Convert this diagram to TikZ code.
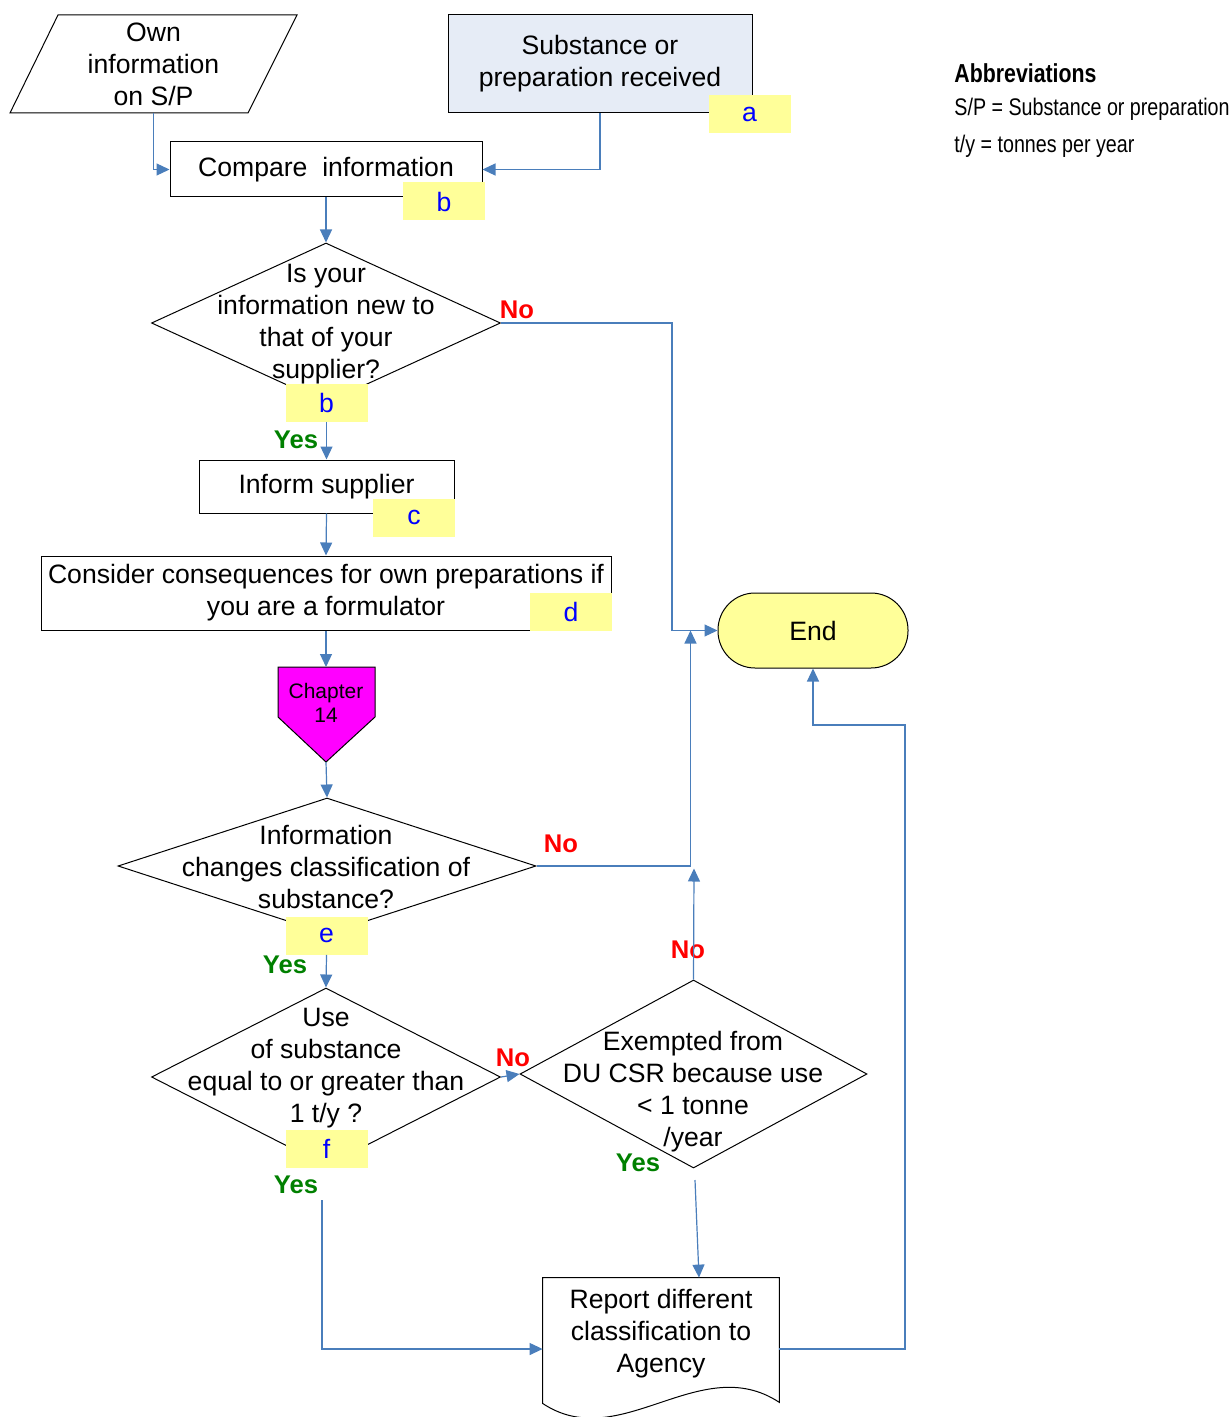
\documentclass[tikz,border=0pt]{standalone}
\usepackage{fontspec}
\setmainfont{Liberation Sans}
\newfontfamily\narrowfont[FakeStretch=0.82]{Liberation Sans}
\usepackage{tikz}
\usetikzlibrary{shapes.geometric}
\usetikzlibrary{arrows.meta}
\definecolor{linkblue}{HTML}{4A7EBB}
\definecolor{tagyellow}{HTML}{FFFF99}
\definecolor{boxblue}{HTML}{E6ECF6}
\definecolor{yesgreen}{HTML}{008000}
\definecolor{chapmagenta}{HTML}{FF00FF}
\tikzstyle{process} = [rectangle, draw=black, line width=0.5pt, align=center, inner sep=0pt]
\tikzstyle{decision} = [diamond, draw=black, line width=0.5pt, inner sep=0pt]
\tikzstyle{startstop} = [rectangle, rounded corners=18.5pt, draw=black, line width=0.5pt, fill=tagyellow, inner sep=0pt]
\tikzstyle{txt} = [align=center, inner sep=0pt, yshift=-1.25pt]
\tikzstyle{lettertag} = [rectangle, fill=tagyellow, text=blue, minimum width=41pt, minimum height=19pt, inner sep=0pt]
\tikzstyle{yeslabel} = [font=\fontsize{12.8}{16}\selectfont\bfseries, text=yesgreen, inner sep=0pt]
\tikzstyle{nolabel} = [font=\fontsize{12.8}{16}\selectfont\bfseries, text=red, inner sep=0pt]
\tikzstyle{abbr} = [anchor=west, inner sep=0pt, font=\narrowfont\fontsize{12}{14}\selectfont]
\tikzstyle{arrow} = [draw=linkblue, line width=0.6pt, -{Triangle[length=6.5pt,width=6pt]}]

\begin{document}
\begin{tikzpicture}[x=0.5pt, y=-0.5pt, font=\fontsize{13.3}{16}\selectfont]
    \useasboundingbox (0,0) rectangle (1231,1417);

    % top row
    \node (own) [txt, minimum width=95pt, minimum height=49pt] at (153.5,61.5) {Own\\information\\on S/P};
    \draw[line width=0.5pt] (58,15) -- (297,15) -- (248,113) -- (10,113) -- cycle;
    \node (sub) [process, fill=boxblue, minimum width=152pt, minimum height=49pt] at (600,64) {Substance or\\preparation received};
    \node (la) [lettertag] at (749.5,114) {a};

    \node (cmp) [process, minimum width=156pt, minimum height=27.5pt] at (326,169.5) {Compare~~information};
    \node (lb1) [lettertag] at (444,201.5) {b};

    % first question
    \node (q1) [decision, minimum width=174.5pt, minimum height=80pt] at (326,323) {};
    \node (q1t) [txt] at (326,322) {Is your\\information new to\\that of your\\supplier?};
    \node (lb2) [lettertag] at (326.5,402.5) {b};

    \node (inf) [process, minimum width=127.5pt, minimum height=26.5pt] at (326.5,486.5) {Inform supplier};
    \node (lc) [lettertag] at (414,517.5) {c};

    \node (cons) [process, minimum width=285pt, minimum height=37pt] at (326,593) {Consider consequences for own preparations if\\you are a formulator};
    \node (ld) [lettertag] at (571,612) {d};

    % chapter connector
    \coordinate (chtop) at (326,667);
    \coordinate (chbot) at (326,762);
    \filldraw[fill=chapmagenta, draw=black, line width=0.5pt] (278,667) -- (375,667) -- (375,717) -- (chbot) -- (278,717) -- cycle;
    \node (chap) [txt, font=\fontsize{10.5}{12}\selectfont] at (326,700) {Chapter\\14};

    % second question
    \node (q2) [decision, minimum width=209pt, minimum height=68pt] at (327,866) {};
    \node (q2t) [txt] at (326,864) {Information\\changes classification of\\substance?};
    \node (le) [lettertag] at (326.5,935.5) {e};

    % third and fourth question
    \node (q3) [decision, minimum width=174.5pt, minimum height=89pt] at (326,1077) {};
    \node (q3t) [txt] at (326,1066) {Use\\of substance\\equal to or greater than\\1 t/y ?};
    \node (lf) [lettertag] at (326.5,1148.5) {f};

    \node (q4) [decision, minimum width=173.5pt, minimum height=94pt] at (693.5,1074) {};
    \node (q4t) [txt] at (693,1089) {Exempted from\\DU CSR because use\\< 1 tonne\\/year};

    % report
    \node (rep) [rectangle, minimum width=118pt, minimum height=71pt, inner sep=0pt] at (661,1349) {};
    \draw[line width=0.5pt] (rep.north west) -- (rep.north east) -- ([yshift=9pt]rep.south east)
        .. controls (700,1350) and (620,1455) .. ([yshift=8.5pt]rep.south west) -- cycle;
    \node (rept) [txt] at (661,1331) {Report different\\classification to\\Agency};

    \node (end) [startstop, minimum width=95pt, minimum height=37.5pt] at (813,630.5) {End};

    % yes / no
    \node (no1) [nolabel] at (517,310) {No};
    \node (yes1) [yeslabel] at (296,440) {Yes};
    \node (no2) [nolabel] at (561,844) {No};
    \node (yes2) [yeslabel] at (285,965) {Yes};
    \node (no3) [nolabel] at (513,1058) {No};
    \node (no4) [nolabel] at (688,950) {No};
    \node (yes3) [yeslabel] at (296,1185) {Yes};
    \node (yes4) [yeslabel] at (638,1163) {Yes};

    % abbreviations
    \node (abbr1) [abbr, font=\narrowfont\fontsize{13}{14}\selectfont\bfseries] at (954,73) {Abbreviations};
    \node (abbr2) [abbr] at (954,109) {S/P = Substance or preparation};
    \node (abbr3) [abbr] at (954,146) {t/y = tonnes per year};

    % connectors
    \coordinate (y3) at (322,1200);
    \coordinate (y4) at (695,1180);
    \draw [arrow] (own.south) |- (cmp.west);
    \draw [arrow] (sub.south) |- (cmp.east);
    \draw [arrow] (cmp.south) -- (q1.north);
    \draw [arrow] (q1.east) -- (672,323) |- (end.west);
    \draw [arrow] (lb2.south) -- (inf.north);
    \draw [arrow] (inf.south) -- (cons.north);
    \draw [arrow] (cons.south) -- (chtop);
    \draw [arrow] (chbot) -- (q2.north);
    \draw [arrow] (q2.east) -| ([xshift=-13.5pt]end.west);
    \draw [arrow] (le.south) -- (q3.north);
    \draw [arrow] (q3.east) -- (q4.west);
    \draw [arrow] (q4.north) -- ++(0.5,-111);
    \draw [arrow] (y4) -- ([xshift=19pt]rep.north);
    \draw [arrow] (y3) |- (rep.west);
    \draw [arrow] (rep.east) -| (905,725) -| (end.south);
\end{tikzpicture}
\end{document}
